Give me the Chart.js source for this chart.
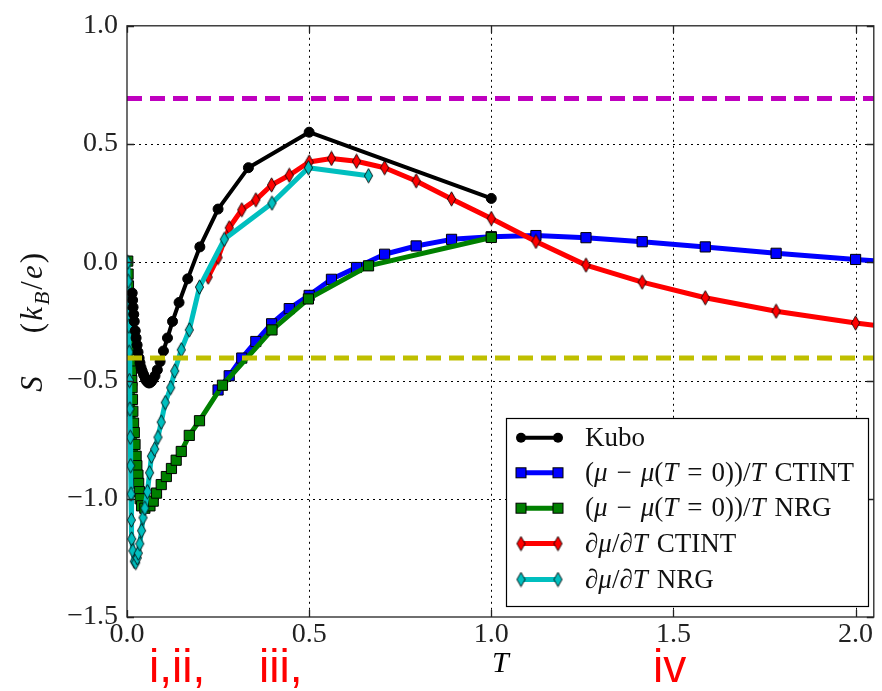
<!DOCTYPE html>
<html>
<head>
<meta charset="utf-8">
<script src="https://cdn.jsdelivr.net/npm/chart.js@4.4.1/dist/chart.umd.min.js"></script>
<style>
html,body{margin:0;padding:0;background:#fff;overflow:hidden;}
canvas{display:block;}
</style>
</head>
<body>
<canvas id="chart" width="882" height="691"></canvas>
<script>
// ---------------- data ----------------
const X_TICKS = [0.0, 0.5, 1.0, 1.5, 2.0];
const Y_TICKS = [-1.5, -1.0, -0.5, 0.0, 0.5, 1.0];

const KUBO_T = [0.0143,0.0154,0.0167,0.0185,0.0200,0.0227,0.0250,0.0278,0.0303,0.0333,0.0357,0.0385,0.0417,0.0455,0.0500,0.0526,0.0556,0.0588,0.0625,0.0667,0.0714,0.0769,0.0833,0.0909,0.1000,0.1111,0.1250,0.1429,0.1667,0.2000,0.2500,0.3333,0.5000,1.0000];
const KUBO_S = [-0.13,-0.16,-0.19,-0.22,-0.25,-0.29,-0.32,-0.35,-0.38,-0.405,-0.425,-0.445,-0.46,-0.475,-0.49,-0.50,-0.505,-0.51,-0.51,-0.505,-0.495,-0.48,-0.455,-0.42,-0.375,-0.32,-0.25,-0.17,-0.07,0.065,0.225,0.40,0.55,0.27];

const CTINT_T = [0.2500,0.2806,0.3150,0.3536,0.3969,0.4454,0.5000,0.5612,0.6300,0.7071,0.7937,0.8909,1.0000,1.1225,1.2599,1.4142,1.5874,1.7818,2.0000,2.2449];
const CTINT_S = [-0.54,-0.48,-0.405,-0.335,-0.26,-0.196,-0.14,-0.072,-0.022,0.034,0.069,0.097,0.108,0.113,0.104,0.087,0.065,0.038,0.012,-0.015];

const NRG_T = [0.002,0.003,0.004,0.005,0.006,0.007,0.008,0.009,0.010,0.011,0.012,0.013,0.014,0.015,0.016,0.018,0.020,0.022,0.025,0.027,0.030,0.032,0.034,0.036,0.040,0.049,0.063,0.072,0.081,0.094,0.108,0.122,0.135,0.149,0.171,0.199,0.262,0.398,0.498,0.663,1.000];
const NRG_S = [0.005,-0.05,-0.10,-0.16,-0.21,-0.25,-0.29,-0.33,-0.37,-0.42,-0.46,-0.50,-0.53,-0.58,-0.63,-0.68,-0.72,-0.77,-0.82,-0.86,-0.90,-0.935,-0.97,-1.00,-1.03,-1.04,-1.03,-1.01,-0.976,-0.94,-0.906,-0.872,-0.837,-0.80,-0.732,-0.67,-0.52,-0.286,-0.155,-0.015,0.105];

const DMU_CTINT_T = [0.2227,0.2500,0.2806,0.3150,0.3536,0.3969,0.4454,0.5000,0.5612,0.6300,0.7071,0.7937,0.8909,1.0000,1.1225,1.2599,1.4142,1.5874,1.7818,2.0000,2.2449];
const DMU_CTINT_S = [-0.063,0.02,0.146,0.222,0.264,0.327,0.368,0.424,0.439,0.427,0.40,0.344,0.268,0.185,0.088,-0.012,-0.084,-0.15,-0.207,-0.257,-0.30];

const DMU_NRG_T = [0.002,0.003,0.004,0.005,0.006,0.007,0.008,0.009,0.010,0.011,0.012,0.013,0.016,0.020,0.024,0.028,0.031,0.035,0.040,0.044,0.049,0.056,0.062,0.067,0.076,0.085,0.094,0.105,0.120,0.131,0.149,0.171,0.199,0.267,0.398,0.498,0.663];
const DMU_NRG_S = [0.0,-0.08,-0.17,-0.27,-0.38,-0.50,-0.62,-0.74,-0.86,-0.98,-1.09,-1.17,-1.22,-1.265,-1.27,-1.25,-1.23,-1.19,-1.135,-1.08,-1.04,-0.97,-0.89,-0.82,-0.79,-0.74,-0.676,-0.593,-0.53,-0.46,-0.37,-0.286,-0.105,0.097,0.250,0.40,0.366];

const REF_T = [0.0, 2.1];
const LN2_S = [0.693, 0.693];
const LN15_S = [-0.405, -0.405];

const SERIES_LABELS = ['Kubo', '(\u03bc \u2212 \u03bc(T = 0))/T CTINT', '(\u03bc \u2212 \u03bc(T = 0))/T NRG', '\u2202\u03bc/\u2202T CTINT', '\u2202\u03bc/\u2202T NRG'];
const ANNOTATIONS = ['i,ii,', 'iii,', 'iv'];
const Y_TITLE = [['S','i'],['\u2003\u2009(','r'],['k','i'],['B','sub'],['/','r'],['e','i'],[')','r']];
const X_TITLE = 'T';
const SP = '\u2004';
const LEGEND_TEXT = [
  [['Kubo','r']],
  [['(','r'],['\u03bc','i'],[SP + '\u2212' + SP,'r'],['\u03bc','i'],['(','r'],['T','i'],[SP + '=' + SP,'r'],['0))/','r'],['T','i'],[SP + 'CTINT','r']],
  [['(','r'],['\u03bc','i'],[SP + '\u2212' + SP,'r'],['\u03bc','i'],['(','r'],['T','i'],[SP + '=' + SP,'r'],['0))/','r'],['T','i'],[SP + 'NRG','r']],
  [['\u2202\u03bc','i'],['/','r'],['\u2202T','i'],[SP + 'CTINT','r']],
  [['\u2202\u03bc','i'],['/','r'],['\u2202T','i'],[SP + 'NRG','r']]
];

// ---------------- styling ----------------
const SERIF = '"Liberation Serif", "DejaVu Serif", serif';
const C_BLACK = '#000000', C_BLUE = '#0000ff', C_GREEN = '#008000', C_RED = '#ff0000', C_CYAN = '#00bfbf';
const C_MAG = '#bf00bf', C_YEL = '#bfbf00';

function thinDiamond(fill) {
  const c = document.createElement('canvas');
  c.width = 11; c.height = 16;
  const g = c.getContext('2d');
  g.beginPath();
  g.moveTo(5.5, 0.8); g.lineTo(9.6, 8); g.lineTo(5.5, 15.2); g.lineTo(1.4, 8); g.closePath();
  g.fillStyle = fill; g.fill();
  g.lineWidth = 1; g.strokeStyle = 'rgba(0,0,0,0.85)'; g.stroke();
  return c;
}
const DIA_RED = thinDiamond(C_RED);
const DIA_CYAN = thinDiamond(C_CYAN);

const pts = (T, S) => T.map((t, i) => ({x: t, y: S[i]}));
const fmt = v => (v < 0 ? '\u2212' : '') + Math.abs(v).toFixed(1);

const baseLine = {showLine: true, tension: 0, clip: 0, borderJoinStyle: 'round', borderCapStyle: 'round', pointBorderWidth: 1, pointBorderColor: '#000'};

const datasets = [
  Object.assign({}, baseLine, {label: 'ln 2', data: pts(REF_T, LN2_S), borderColor: C_MAG, borderWidth: 5, borderDash: [15, 8], borderCapStyle: 'butt', pointRadius: 0, order: 0}),
  Object.assign({}, baseLine, {label: 'ln 1.5', data: pts(REF_T, LN15_S), borderColor: C_YEL, borderWidth: 5, borderDash: [15, 8], borderCapStyle: 'butt', pointRadius: 0, order: 0}),
  Object.assign({}, baseLine, {label: SERIES_LABELS[0], data: pts(KUBO_T, KUBO_S), borderColor: C_BLACK, backgroundColor: C_BLACK, borderWidth: 4, pointStyle: 'circle', pointRadius: 5, order: 1}),
  Object.assign({}, baseLine, {label: SERIES_LABELS[4], data: pts(DMU_NRG_T, DMU_NRG_S), borderColor: C_CYAN, backgroundColor: C_CYAN, borderWidth: 5, pointStyle: DIA_CYAN, pointRadius: 6, order: 2}),
  Object.assign({}, baseLine, {label: SERIES_LABELS[3], data: pts(DMU_CTINT_T, DMU_CTINT_S), borderColor: C_RED, backgroundColor: C_RED, borderWidth: 5, pointStyle: DIA_RED, pointRadius: 6, order: 3}),
  Object.assign({}, baseLine, {label: SERIES_LABELS[2], data: pts(NRG_T, NRG_S), borderColor: C_GREEN, backgroundColor: C_GREEN, borderWidth: 5, pointStyle: 'rect', pointRadius: 7.2, order: 4}),
  Object.assign({}, baseLine, {label: SERIES_LABELS[1], data: pts(CTINT_T, CTINT_S), borderColor: C_BLUE, backgroundColor: C_BLUE, borderWidth: 5, pointStyle: 'rect', pointRadius: 7.2, order: 5})
];

function drawMarker(ctx, kind, x, y) {
  ctx.save();
  if (kind === 'circle') {
    ctx.fillStyle = '#000'; ctx.beginPath(); ctx.arc(x, y, 5, 0, Math.PI * 2); ctx.fill();
  } else if (kind === C_BLUE || kind === C_GREEN) {
    ctx.fillStyle = kind; ctx.fillRect(x - 5, y - 5, 10, 10);
    ctx.lineWidth = 1; ctx.strokeStyle = '#000'; ctx.strokeRect(x - 5, y - 5, 10, 10);
  } else {
    ctx.drawImage(kind, x - kind.width / 2, y - kind.height / 2);
  }
  ctx.restore();
}

function fontFor(st, size) {
  return (st === 'r' ? '' : 'italic ') + (st === 'sub' ? Math.round(size * 0.7) : size) + 'px ' + SERIF;
}
function drawSegments(ctx, segs, x, y, size) {
  let cx = x;
  segs.forEach(([t, st]) => {
    ctx.font = fontFor(st, size);
    ctx.fillText(t, cx, st === 'sub' ? y + size * 0.22 : y);
    cx += ctx.measureText(t).width;
  });
  return cx - x;
}
function measureSegments(ctx, segs, size) {
  let w = 0;
  segs.forEach(([t, st]) => { ctx.font = fontFor(st, size); w += ctx.measureText(t).width; });
  return w;
}

const decor = {
  id: 'decor',
  beforeDatasetsDraw(chart) {
    const {ctx, chartArea: a, scales: {x, y}} = chart;
    ctx.save();
    ctx.strokeStyle = '#000'; ctx.lineWidth = 1; ctx.setLineDash([2, 4]);
    X_TICKS.forEach(v => {
      if (v <= x.min || v >= x.max) return;
      const px = Math.round(x.getPixelForValue(v)) + 0.5;
      ctx.beginPath(); ctx.moveTo(px, a.top); ctx.lineTo(px, a.bottom); ctx.stroke();
    });
    Y_TICKS.forEach(v => {
      if (v <= y.min || v >= y.max) return;
      const py = Math.round(y.getPixelForValue(v)) + 0.5;
      ctx.beginPath(); ctx.moveTo(a.left, py); ctx.lineTo(a.right, py); ctx.stroke();
    });
    ctx.restore();
  },
  afterDatasetsDraw(chart) {
    const {ctx, chartArea: a, scales: {x, y}} = chart;
    ctx.save();
    ctx.strokeStyle = '#222'; ctx.lineWidth = 1.3; ctx.setLineDash([]);
    X_TICKS.forEach(v => {
      const px = Math.round(x.getPixelForValue(v)) + 0.5;
      ctx.beginPath(); ctx.moveTo(px, a.bottom); ctx.lineTo(px, a.bottom - 7); ctx.moveTo(px, a.top); ctx.lineTo(px, a.top + 7); ctx.stroke();
    });
    Y_TICKS.forEach(v => {
      const py = Math.round(y.getPixelForValue(v)) + 0.5;
      ctx.beginPath(); ctx.moveTo(a.left, py); ctx.lineTo(a.left + 7, py); ctx.moveTo(a.right, py); ctx.lineTo(a.right - 7, py); ctx.stroke();
    });
    ctx.strokeRect(a.left, a.top, a.right - a.left, a.bottom - a.top);
    ctx.restore();
  },
  afterDraw(chart) {
    const {ctx, chartArea: a} = chart;
    // y-axis title
    ctx.save();
    ctx.fillStyle = '#111';
    ctx.textBaseline = 'alphabetic';
    if ('letterSpacing' in ctx) ctx.letterSpacing = '2px';
    const size = 31;
    const w = measureSegments(ctx, Y_TITLE, size);
    ctx.translate(42, (a.top + a.bottom) / 2);
    ctx.rotate(-Math.PI / 2);
    drawSegments(ctx, Y_TITLE, -w / 2, 0, size);
    ctx.restore();

    // red annotations
    ctx.save();
    ctx.fillStyle = '#ff0000';
    ctx.font = '46px "Liberation Sans", Arial, sans-serif';
    ctx.textBaseline = 'alphabetic';
    const ax = [149, 259, 653];
    ANNOTATIONS.forEach((t, i) => ctx.fillText(t, ax[i], 682));
    ctx.restore();

    // legend
    ctx.save();
    const L = {x: 506, y: 418, w: 362, h: 188};
    ctx.fillStyle = '#fff'; ctx.fillRect(L.x, L.y, L.w, L.h);
    ctx.strokeStyle = '#000'; ctx.lineWidth = 1.2; ctx.strokeRect(L.x + 0.5, L.y + 0.5, L.w, L.h);
    const rows = [437.7, 472.8, 508.2, 543.6, 579.5];
    const colors = [C_BLACK, C_BLUE, C_GREEN, C_RED, C_CYAN];
    const markers = ['circle', C_BLUE, C_GREEN, DIA_RED, DIA_CYAN];
    rows.forEach((ry, i) => {
      ctx.strokeStyle = colors[i]; ctx.lineWidth = i === 0 ? 4 : 5; ctx.lineCap = 'butt';
      ctx.beginPath(); ctx.moveTo(521, ry); ctx.lineTo(558, ry); ctx.stroke();
      drawMarker(ctx, markers[i], 521, ry);
      drawMarker(ctx, markers[i], 558, ry);
      ctx.fillStyle = '#111'; ctx.textBaseline = 'alphabetic';
      drawSegments(ctx, LEGEND_TEXT[i], 585, ry + 8, 27);
    });
    ctx.restore();
  }
};

new Chart(document.getElementById('chart'), {
  type: 'scatter',
  data: {datasets},
  options: {
    responsive: false,
    animation: false,
    devicePixelRatio: 1,
    events: [],
    layout: {padding: {left: 0, right: 2, top: 19, bottom: 0}},
    plugins: {legend: {display: false}, tooltip: {enabled: false}},
    scales: {
      x: {
        type: 'linear', min: 0, max: 2.05,
        afterBuildTicks: s => { s.ticks = X_TICKS.map(v => ({value: v})); },
        afterFit: s => { s.height = 74; },
        grid: {display: false, drawTicks: false},
        border: {display: false},
        ticks: {padding: 1, color: '#222', font: {family: SERIF, size: 28}, maxRotation: 0, autoSkip: false, callback: v => fmt(v)},
        title: {display: true, text: X_TITLE, color: '#000', font: {family: SERIF, size: 30, style: 'italic'}, padding: {top: 0, bottom: 9}}
      },
      y: {
        type: 'linear', min: -1.5, max: 1.0,
        afterBuildTicks: s => { s.ticks = Y_TICKS.map(v => ({value: v})); },
        afterFit: s => { s.width = 127; },
        grid: {display: false, drawTicks: false},
        border: {display: false},
        ticks: {padding: 9, color: '#222', font: {family: SERIF, size: 28}, autoSkip: false, callback: v => fmt(v)}
      }
    }
  },
  plugins: [decor]
});
</script>
</body>
</html>
